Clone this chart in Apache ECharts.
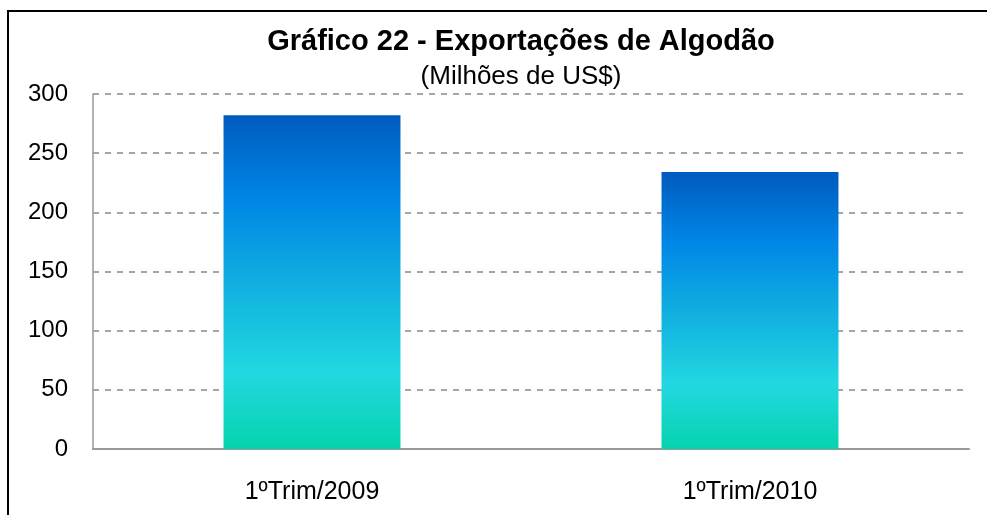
<!DOCTYPE html>
<html>
<head>
<meta charset="utf-8">
<script src="https://cdn.jsdelivr.net/npm/echarts@6/dist/echarts.min.js"></script>
<style>
  html, body { margin: 0; padding: 0; background: #fff; }
  #chart { width: 987px; height: 515px; }
</style>
</head>
<body>
<div id="chart"></div>
<script>
const categories = ['1ºTrim/2009', '1ºTrim/2010']
const exportValues = [282, 234]
const yTicks = { min: 0, max: 300, interval: 50 }

const chart = echarts.init(document.getElementById('chart'))
const barGradient = new echarts.graphic.LinearGradient(0, 0, 0, 1, [
  { offset: 0, color: '#005bbd' },
  { offset: 0.25, color: '#0086e6' },
  { offset: 0.5, color: '#10aee0' },
  { offset: 0.77, color: '#22d8e0' },
  { offset: 1, color: '#05d3ae' }
])

chart.setOption({
  animation: false,
  title: {
    text: 'Gráfico 22 - Exportações de Algodão',
    subtext: '(Milhões de US$)',
    left: 516,
    textAlign: 'center',
    top: 22,
    itemGap: 8,
    textStyle: { fontFamily: 'Liberation Sans', fontSize: 29, fontWeight: 'bold', color: '#000' },
    subtextStyle: { fontFamily: 'Liberation Sans', fontSize: 26, color: '#000' }
  },
  graphic: [{
    type: 'rect',
    shape: { x: 8, y: 11, width: 1000, height: 520 },
    style: { fill: 'none', stroke: '#000', lineWidth: 2 },
    silent: true
  }],
  grid: { left: 93, right: 18, top: 94, bottom: 66 },
  xAxis: {
    type: 'category',
    data: categories,
    axisLine: { lineStyle: { color: '#999', width: 2 } },
    axisTick: { show: false },
    axisLabel: { fontFamily: 'Liberation Sans', fontSize: 25, color: '#000', margin: 31 }
  },
  yAxis: {
    type: 'value',
    min: yTicks.min,
    max: yTicks.max,
    interval: yTicks.interval,
    axisLine: { show: true, lineStyle: { color: '#999', width: 1.5 } },
    axisTick: { show: false },
    axisLabel: { fontFamily: 'Liberation Sans', fontSize: 24, color: '#000', margin: 25 },
    splitLine: { lineStyle: { color: '#888', type: [6, 6], width: 1.5 } }
  },
  series: [{
    type: 'bar',
    data: exportValues,
    barWidth: '40.4%',
    itemStyle: { color: barGradient }
  }]
})
</script>
</body>
</html>
